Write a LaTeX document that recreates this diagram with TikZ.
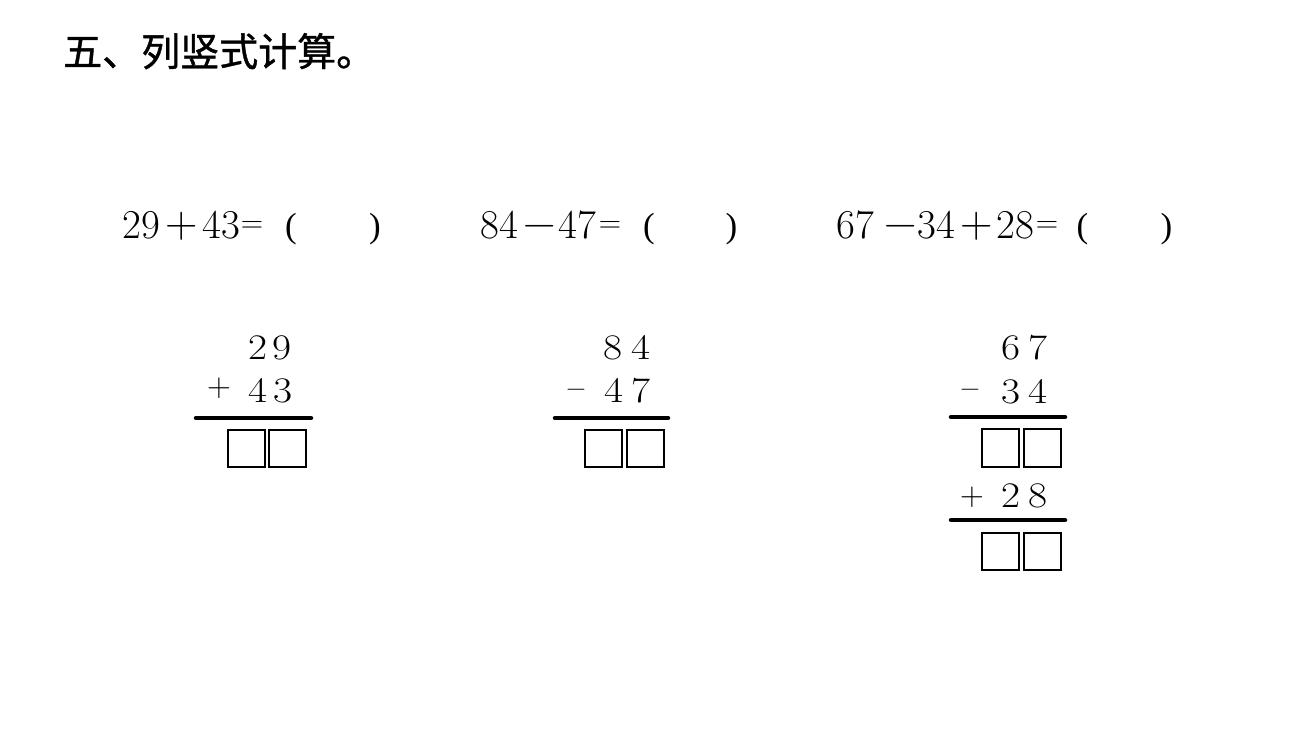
\documentclass[tikz,border=0pt]{standalone}
\usepackage{fontspec}
\newfontfamily\cjktitle[FakeBold=1]{Noto Sans CJK SC}
\newfontfamily\parfont{Liberation Serif}
\newcommand\widedigit[1]{\scalebox{1.15}[1]{#1}}
\begin{document}
\begin{tikzpicture}[x=1pt,y=-1pt,
  titlestyle/.style={anchor=base west, inner sep=0pt, font=\cjktitle\fontsize{39}{39}\selectfont},
  eqnum/.style={anchor=base west, inner sep=0pt, font=\fontsize{41}{41}\selectfont},
  eqop/.style={anchor=base, inner sep=0pt, font=\fontsize{45}{45}\selectfont},
  eqeq/.style={anchor=base, inner sep=0pt, font=\fontsize{31}{31}\selectfont},
  eqpar/.style={anchor=base, inner sep=0pt, font=\parfont\fontsize{35}{35}\selectfont},
  coldig/.style={anchor=base, inner sep=0pt, font=\fontsize{36}{36}\selectfont},
  colplus/.style={anchor=base, inner sep=0pt, font=\fontsize{33}{33}\selectfont},
  colminus/.style={anchor=base, inner sep=0pt, font=\fontsize{27}{27}\selectfont},
  barline/.style={line width=4.5pt, line cap=round},
  ansbox/.style={draw, line width=1.3pt}]
\useasboundingbox[fill=white] (0,0) rectangle (1300,740);

% title
\node[titlestyle] (title) at (63,66) {五、列竖式计算。};

% equation 1
\node[eqnum] (e1a) at (122.5,238) {29};
\node[eqop]  (e1p) at (182,237.5) {+};
\node[eqnum] (e1b) at (202,238) {43};
\node[eqeq]  (e1q) at (252,232.5) {=};
\node[eqpar] (e1l) at (291,237) {(};
\node[eqpar] (e1r) at (375,237) {)};

% equation 2
\node[eqnum] (e2a) at (480,238) {84};
\node[eqop]  (e2m) at (540,237) {−};
\node[eqnum] (e2b) at (558.5,238) {47};
\node[eqeq]  (e2q) at (610,232.5) {=};
\node[eqpar] (e2l) at (649,237) {(};
\node[eqpar] (e2r) at (731.5,237) {)};

% equation 3
\node[eqnum] (e3a) at (836.5,238) {67};
\node[eqop]  (e3m) at (901,237) {−};
\node[eqnum] (e3b) at (917.5,238) {34};
\node[eqop]  (e3p) at (977,237.5) {+};
\node[eqnum] (e3c) at (996.5,238) {28};
\node[eqeq]  (e3q) at (1047,232.5) {=};
\node[eqpar] (e3l) at (1082.5,237) {(};
\node[eqpar] (e3r) at (1166.5,237) {)};

% column 1
\node[coldig]  (c1t1) at (257.5,359) {\widedigit{2}};
\node[coldig]  (c1o1) at (282,359) {\widedigit{9}};
\node[colplus] (c1op) at (219,396.5) {+};
\node[coldig]  (c1t2) at (257.5,402) {\widedigit{4}};
\node[coldig]  (c1o2) at (283,402) {\widedigit{3}};
\draw[barline] (196,418) -- (311,418);
\draw[ansbox] (228,430) rectangle (265,467);
\draw[ansbox] (269,430) rectangle (306,467);

% column 2
\node[coldig]   (c2t1) at (612.5,359) {\widedigit{8}};
\node[coldig]   (c2o1) at (641,359) {\widedigit{4}};
\node[colminus] (c2op) at (576,396) {−};
\node[coldig]   (c2t2) at (614,402) {\widedigit{4}};
\node[coldig]   (c2o2) at (641,402) {\widedigit{7}};
\draw[barline] (555,418) -- (668,418);
\draw[ansbox] (585,430) rectangle (622,467);
\draw[ansbox] (627,430) rectangle (664,467);

% column 3
\node[coldig]   (c3t1) at (1011,359) {\widedigit{6}};
\node[coldig]   (c3o1) at (1038,359) {\widedigit{7}};
\node[colminus] (c3op) at (970,396) {−};
\node[coldig]   (c3t2) at (1011,403) {\widedigit{3}};
\node[coldig]   (c3o2) at (1038,403) {\widedigit{4}};
\draw[barline] (951,417) -- (1065,417);
\draw[ansbox] (982,429) rectangle (1019,467);
\draw[ansbox] (1024,429) rectangle (1061,467);
\node[colplus]  (c3op2) at (972,505.5) {+};
\node[coldig]   (c3t3) at (1011,507) {\widedigit{2}};
\node[coldig]   (c3o3) at (1038,507) {\widedigit{8}};
\draw[barline] (951,520) -- (1065,520);
\draw[ansbox] (982,533) rectangle (1019,570);
\draw[ansbox] (1024,533) rectangle (1061,570);
\end{tikzpicture}
\end{document}
